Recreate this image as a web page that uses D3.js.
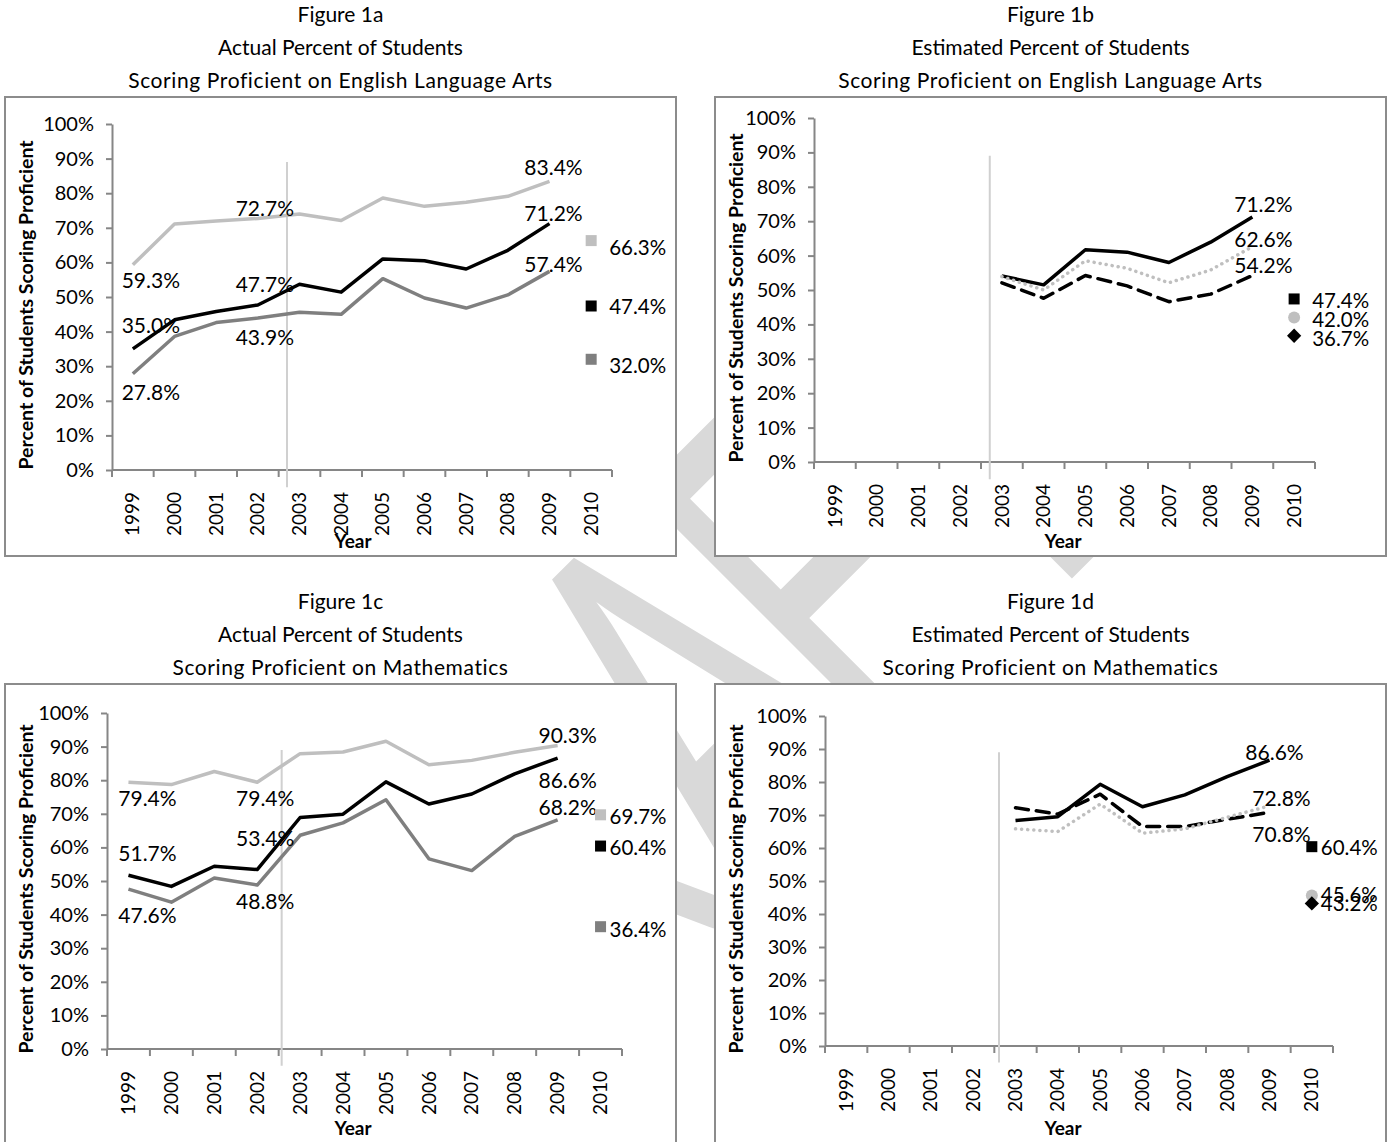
<!DOCTYPE html>
<html>
<head>
<meta charset="utf-8">
<script src="https://cdn.jsdelivr.net/npm/d3@7"></script>
<style>
body { margin: 0; background: #fff; }
text { font-family: Lato, "Open Sans", sans-serif; fill: #000; }
</style>
</head>
<body>
<div id="chart"></div>
<script>
var years = ["1999","2000","2001","2002","2003","2004","2005","2006","2007","2008","2009","2010"];
var yTicks = [0,10,20,30,40,50,60,70,80,90,100];

// Figure 1a - actual ELA, 1999-2009
var elaActualTop = [59.3, 71.1, 72.0, 72.7, 74.0, 72.1, 78.6, 76.2, 77.4, 79.1, 83.4];
var elaActualMid = [35.0, 43.4, 45.8, 47.7, 53.7, 51.4, 61.0, 60.5, 58.1, 63.5, 71.2];
var elaActualLow = [27.8, 38.6, 42.6, 43.9, 45.6, 45.0, 55.3, 49.7, 46.8, 50.6, 57.4];
var elaActual2010 = [66.3, 47.4, 32.0];

// Figure 1b - estimated ELA, 2003-2009
var elaEstSolid  = [54.1, 51.5, 61.7, 61.0, 58.0, 63.9, 71.2];
var elaEstDotted = [53.9, 50.0, 58.5, 56.3, 52.1, 55.8, 62.6];
var elaEstDashed = [52.1, 47.6, 54.2, 51.2, 46.6, 48.8, 54.2];
var elaEst2010 = [47.4, 42.0, 36.7];

// Figure 1c - actual math, 1999-2009
var mathActualTop = [79.4, 78.7, 82.6, 79.4, 87.9, 88.4, 91.6, 84.6, 85.9, 88.3, 90.3];
var mathActualMid = [51.7, 48.4, 54.4, 53.4, 68.9, 69.9, 79.5, 72.9, 75.9, 81.9, 86.6];
var mathActualLow = [47.6, 43.7, 50.9, 48.8, 63.6, 67.3, 74.2, 56.6, 53.1, 63.3, 68.2];
var mathActual2010 = [69.7, 60.4, 36.4];

// Figure 1d - estimated math, 2003-2009
var mathEstSolid  = [68.3, 69.5, 79.3, 72.5, 76.1, 81.6, 86.6];
var mathEstDashed = [72.2, 70.3, 76.3, 66.5, 66.5, 68.7, 70.8];
var mathEstDotted = [65.8, 65.0, 73.3, 64.5, 65.8, 69.3, 72.8];
var mathEst2010 = [60.4, 45.6, 43.2];

var LIGHT = "#bfbfbf", DARK = "#7f7f7f", BLACK = "#000";

var svg = d3.select("#chart").append("svg")
    .attr("width", 1390)
    .attr("height", 1142);

// DRAFT watermark (stretched, turned 45deg), sits behind the white chart boxes
var wmText = ["D", "R", "A", "F", "T"];
var wmU = [-427, -212, -4, 165, 364];   // letter centres along the slanted baseline
var wmBase = 1167;
var wm = svg.append("g");
wmText.forEach(function (ch, k) {
  var X = 0.7071 * (wmU[k] + wmBase), Y = 0.7071 * (wmBase - wmU[k]);
  wm.append("text")
    .attr("transform", "translate(" + X + "," + Y + ") rotate(-45) scale(1,1.62)")
    .attr("text-anchor", "middle")
    .style("font-size", "316px")
    .style("fill", "#d9d9d9")
    .text(ch);
});

var panels = [
  { title: ["Figure 1a", "Actual Percent of Students", "Scoring Proficient on English Language Arts"],
    box: [5, 97, 671, 459], x0: 112, x1: 612, y0: 470, y100: 124, refLine: 0.2,
    series: [ {v: elaActualTop, start: 0, color: LIGHT}, {v: elaActualMid, start: 0, color: BLACK}, {v: elaActualLow, start: 0, color: DARK} ],
    labels: [ {s:0,i:0,dx:18,dy:15}, {s:1,i:0,dx:18,dy:-24}, {s:2,i:0,dx:18,dy:18},
              {s:0,i:3,dx:7,dy:-11}, {s:1,i:3,dx:7,dy:-21}, {s:2,i:3,dx:7,dy:18},
              {s:0,i:10,dx:4,dy:-15}, {s:1,i:10,dx:4,dy:-11}, {s:2,i:10,dx:4,dy:-8} ],
    end: elaActual2010, endMarks: [ {shape:"square", color: LIGHT}, {shape:"square", color: BLACK}, {shape:"square", color: DARK} ],
    endGap: 18, endDy: [6, 0, 6] },
  { title: ["Figure 1b", "Estimated Percent of Students", "Scoring Proficient on English Language Arts"],
    box: [715, 97, 671, 459], x0: 814, x1: 1315, y0: 462, y100: 118, refLine: 0.21,
    series: [ {v: elaEstSolid, start: 4, color: BLACK}, {v: elaEstDotted, start: 4, color: LIGHT, dash: "0.1 6"}, {v: elaEstDashed, start: 4, color: BLACK, dash: "13 8"} ],
    labels: [ {s:0,i:10,dx:11,dy:-14}, {s:1,i:10,dx:11,dy:-8}, {s:2,i:10,dx:11,dy:-11} ],
    end: elaEst2010, endMarks: [ {shape:"square", color: BLACK}, {shape:"circle", color: LIGHT}, {shape:"diamond", color: BLACK} ],
    endGap: 18, endDy: [1, 1, 2] },
  { title: ["Figure 1c", "Actual Percent of Students", "Scoring Proficient on Mathematics"],
    box: [5, 684, 671, 470], x0: 107, x1: 622, y0: 1049, y100: 713, refLine: 0.07,
    series: [ {v: mathActualTop, start: 0, color: LIGHT}, {v: mathActualMid, start: 0, color: BLACK}, {v: mathActualLow, start: 0, color: DARK} ],
    labels: [ {s:0,i:0,dx:19,dy:15}, {s:1,i:0,dx:19,dy:-23}, {s:2,i:0,dx:19,dy:25},
              {s:0,i:3,dx:8,dy:15}, {s:1,i:3,dx:8,dy:-32}, {s:2,i:3,dx:8,dy:15},
              {s:0,i:10,dx:10,dy:-11}, {s:1,i:10,dx:10,dy:21}, {s:2,i:10,dx:10,dy:-13} ],
    end: mathActual2010, endMarks: [ {shape:"square", color: LIGHT}, {shape:"square", color: BLACK}, {shape:"square", color: DARK} ],
    endGap: 9, endDy: [1, 1, 2] },
  { title: ["Figure 1d", "Estimated Percent of Students", "Scoring Proficient on Mathematics"],
    box: [715, 684, 671, 470], x0: 825, x1: 1333, y0: 1046, y100: 716, refLine: 0.11,
    series: [ {v: mathEstSolid, start: 4, color: BLACK}, {v: mathEstDashed, start: 4, color: BLACK, dash: "13 8"}, {v: mathEstDotted, start: 4, color: LIGHT, dash: "0.1 6"} ],
    labels: [ {s:0,i:10,dx:5,dy:-9}, {s:2,i:10,dx:12,dy:-8}, {s:1,i:10,dx:12,dy:21} ],
    end: mathEst2010, endMarks: [ {shape:"square", color: BLACK}, {shape:"circle", color: LIGHT}, {shape:"diamond", color: BLACK} ],
    endGap: 9, endDy: [0, -2, 0] }
];

panels.forEach(function (p) {
  var bx = p.box[0], by = p.box[1], bw = p.box[2], bh = p.box[3];

  // titles
  p.title.forEach(function (t, k) {
    svg.append("text")
      .attr("x", bx + bw / 2)
      .attr("y", by - 84 + k * 33)
      .attr("text-anchor", "middle")
      .attr("dominant-baseline", "central")
      .style("font-size", "21px")
      .style("letter-spacing", k === 2 ? "0.6px" : null)
      .text(t);
  });

  svg.append("rect")
    .attr("x", bx).attr("y", by)
    .attr("width", bw).attr("height", bh)
    .style("fill", "#fff")
    .style("stroke", "#8c8c8c")
    .style("stroke-width", 2);

  var x = d3.scaleBand().domain(years).range([p.x0, p.x1]);
  var y = d3.scaleLinear().domain([0, 100]).range([p.y0, p.y100]);
  var cx = function (i) { return x(years[i]) + x.bandwidth() / 2; };

  // y axis
  var ya = svg.append("g")
    .attr("transform", "translate(" + p.x0 + ",0)")
    .call(d3.axisLeft(y).tickValues(yTicks).tickFormat(function (d) { return d + "%"; })
      .tickSize(6).tickSizeOuter(0).tickPadding(12));
  ya.select(".domain").style("stroke", "#868686").style("stroke-width", 2);
  ya.selectAll(".tick line").style("stroke", "#868686").style("stroke-width", 2);
  ya.selectAll(".tick text").style("font-size", "20px").style("font-family", "Lato, sans-serif").attr("fill", "#000");

  // x axis, tick marks between categories
  var xa = svg.append("g")
    .attr("transform", "translate(0," + p.y0 + ")")
    .call(d3.axisBottom(x).tickSize(0).tickSizeOuter(0));
  xa.select(".domain").remove();
  xa.selectAll(".tick text")
    .attr("transform", "rotate(-90)")
    .attr("text-anchor", "end")
    .attr("x", -22).attr("y", 0).attr("dy", "0.35em")
    .style("font-size", "19px").style("font-family", "Lato, sans-serif").attr("fill", "#000");
  xa.append("line")
    .attr("x1", p.x0).attr("x2", p.x1).attr("y1", 0).attr("y2", 0)
    .style("stroke", "#868686").style("stroke-width", 2);
  xa.selectAll(".bound").data(d3.range(years.length + 1)).enter().append("line")
    .attr("x1", function (k) { return p.x0 + k * x.step(); })
    .attr("x2", function (k) { return p.x0 + k * x.step(); })
    .attr("y1", 0).attr("y2", 7)
    .style("stroke", "#868686").style("stroke-width", 2);

  // vertical reference line after 2002
  var rx = x("2003") + p.refLine * x.step();
  svg.append("line")
    .attr("x1", rx).attr("x2", rx)
    .attr("y1", y(89)).attr("y2", y(-5))
    .style("stroke", "#d0d0d0").style("stroke-width", 2);

  // axis titles
  svg.append("text")
    .attr("transform", "translate(" + (bx + 20) + "," + ((p.y0 + p.y100) / 2 + 8) + ") rotate(-90)")
    .attr("text-anchor", "middle")
    .attr("dominant-baseline", "central")
    .style("font-size", "19.5px").style("font-weight", "bold")
    .text("Percent of Students Scoring Proficient");
  svg.append("text")
    .attr("x", bx + 348).attr("y", by + 443)
    .attr("text-anchor", "middle")
    .attr("dominant-baseline", "central")
    .style("font-size", "19px").style("font-weight", "bold")
    .text("Year");

  // lines
  var line = d3.line()
    .x(function (d) { return cx(d.i); })
    .y(function (d) { return y(d.v); });
  p.series.forEach(function (s) {
    var pts = s.v.map(function (v, k) { return {i: s.start + k, v: v}; });
    svg.append("path")
      .datum(pts)
      .attr("d", line)
      .style("fill", "none")
      .style("stroke", s.color)
      .style("stroke-width", 3.5)
      .style("stroke-linecap", s.dash ? "round" : "butt")
      .style("stroke-linejoin", "round")
      .style("stroke-dasharray", s.dash || null);
  });

  // data labels
  p.labels.forEach(function (l) {
    var s = p.series[l.s];
    var v = s.v[l.i - s.start];
    svg.append("text")
      .attr("x", cx(l.i) + l.dx)
      .attr("y", y(v) + l.dy)
      .attr("text-anchor", "middle")
      .attr("dominant-baseline", "central")
      .style("font-size", "21px")
      .text(v.toFixed(1) + "%");
  });

  // 2010 markers with labels
  var ex = cx(11);
  p.end.forEach(function (v, k) {
    var m = p.endMarks[k], ey = y(v);
    if (m.shape === "square") {
      svg.append("rect").attr("x", ex - 5.5).attr("y", ey - 5.5).attr("width", 11).attr("height", 11).style("fill", m.color);
    } else if (m.shape === "circle") {
      svg.append("circle").attr("cx", ex).attr("cy", ey).attr("r", 6).style("fill", m.color);
    } else {
      svg.append("path").attr("d", d3.symbol(d3.symbolDiamond2, 130)()).attr("transform", "translate(" + ex + "," + ey + ")").style("fill", m.color);
    }
    svg.append("text")
      .attr("x", ex + p.endGap)
      .attr("y", ey + p.endDy[k])
      .attr("dominant-baseline", "central")
      .style("font-size", "20.5px")
      .text(v.toFixed(1) + "%");
  });
});
</script>
</body>
</html>
